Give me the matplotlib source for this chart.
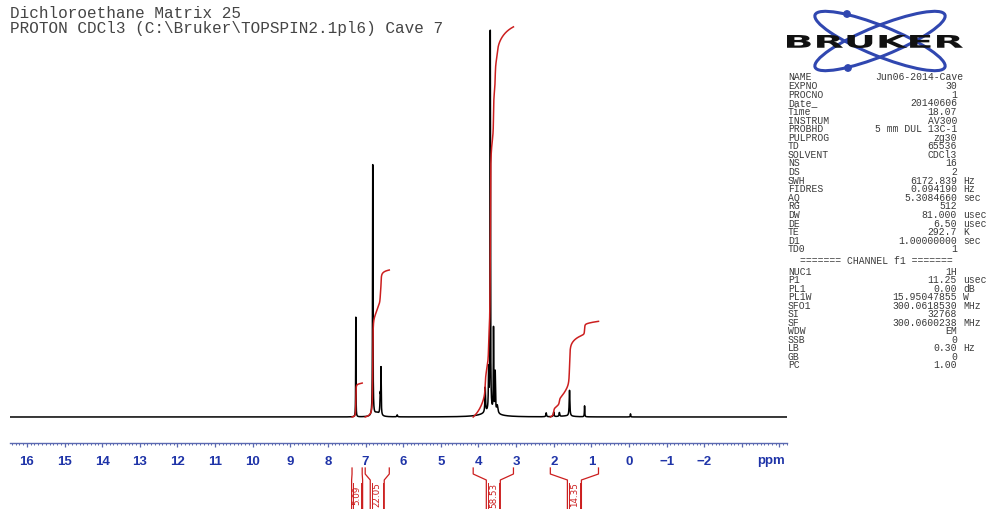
import numpy as np
import matplotlib.pyplot as plt
from matplotlib.patches import Ellipse, Circle, PathPatch
from matplotlib.textpath import TextPath
from matplotlib.font_manager import FontProperties
from matplotlib.transforms import Affine2D

# ---- data ----
# peaks: position (ppm), relative height (largest = 100), half width (ppm)
peak_ppm = [7.26, 6.81, 6.61, 6.59, 6.70, 6.16, 3.82, 3.73, 3.686, 3.60, 3.555,
            3.50, 3.70, 2.20, 2.00, 1.85, 1.58, 1.65, 1.18, -0.04]
peak_height = [25.6, 64.4, 5.1, 11.5, 1.0, 0.5, 6.4, 10.3, 97.5, 21.3, 10.3,
               2.0, 1.2, 1.0, 1.2, 1.0, 6.6, 0.25, 2.8, 0.8]
peak_width = [0.004, 0.006, 0.01, 0.006, 0.08, 0.01, 0.01, 0.008, 0.006, 0.006, 0.008,
              0.02, 0.25, 0.01, 0.01, 0.01, 0.01, 0.2, 0.006, 0.006]

# integrals: region start / end (ppm) and value
int_start = [7.36, 7.01, 4.14, 2.09]
int_end = [7.09, 6.37, 3.07, 0.81]
int_value = [5.09, 22.05, 58.53, 14.35]
int_labels = ['5.09', '22.05', '58.53', '14.35']

tick_values = list(range(16, -5, -1))
tick_labels = [str(v).replace('-', '\u2212') if v >= -2 else '' for v in tick_values]

title_lines = ['Dichloroethane Matrix 25',
               'PROTON CDCl3 (C:\\Bruker\\TOPSPIN2.1pl6) Cave 7']

acq_names = ['NAME', 'EXPNO', 'PROCNO', 'Date_', 'Time', 'INSTRUM', 'PROBHD', 'PULPROG',
             'TD', 'SOLVENT', 'NS', 'DS', 'SWH', 'FIDRES', 'AQ', 'RG', 'DW', 'DE',
             'TE', 'D1', 'TD0']
acq_values = ['Jun06-2014-Cave', '30', '1', '20140606', '18.07', 'AV300', '5 mm DUL 13C-1',
              'zg30', '65536', 'CDCl3', '16', '2', '6172.839', '0.094190', '5.3084660',
              '512', '81.000', '6.50', '292.7', '1.00000000', '1']
acq_units = ['', '', '', '', '', '', '', '', '', '', '', '', 'Hz', 'Hz', 'sec', '',
             'usec', 'usec', 'K', 'sec', '']

ch_names = ['NUC1', 'P1', 'PL1', 'PL1W', 'SFO1', 'SI', 'SF', 'WDW', 'SSB', 'LB', 'GB', 'PC']
ch_values = ['1H', '11.25', '0.00', '15.95047855', '300.0618530', '32768', '300.0600238',
             'EM', '0', '0.30', '0', '1.00']
ch_units = ['', 'usec', 'dB', 'W', 'MHz', '', 'MHz', '', '', 'Hz', '', '']

int_scale = 1.71  # plot units per integral unit
red = '#cc1f1f'
blue_txt = '#1f34a8'
blue_axis = '#5a68b0'

W, H = 995, 510
fig = plt.figure(figsize=(W / 100, H / 100), dpi=100)

# ---- spectrum axes ----
ax = fig.add_axes([10 / W, (H - 444) / H, 777 / W, 424 / H])
ppm_left, ppm_right = 16.45, -4.2
x = np.linspace(ppm_left, ppm_right, 65536)
spec = np.zeros_like(x)
for p, h, w in zip(peak_ppm, peak_height, peak_width):
    spec += h * w ** 2 / ((x - p) ** 2 + w ** 2)

ax.plot(x, spec, color='black', lw=1.1)

for a, b, v in zip(int_start, int_end, int_value):
    m = (x <= a) & (x >= b)
    cum = np.cumsum(spec[m])
    cum = cum / cum[-1] * v * int_scale
    ax.plot(x[m], cum, color=red, lw=1.1)

ax.set_xlim(ppm_left, ppm_right)
ax.set_ylim(-6.67, 102.1)
for s in ['left', 'right', 'top']:
    ax.spines[s].set_visible(False)
ax.spines['bottom'].set_color(blue_axis)
ax.spines['bottom'].set_linewidth(1.0)
ax.set_yticks([])
ax.set_xticks(tick_values)
ax.set_xticklabels(tick_labels, fontfamily='Liberation Sans', fontweight='bold',
                   fontsize=9.5, color=blue_txt)
ax.set_xticks(np.round(np.arange(-4.2, 16.45, 0.1), 1), minor=True)
ax.tick_params(axis='x', which='major', direction='out', length=3, width=0.9,
               color=blue_axis, pad=6)
ax.tick_params(axis='x', which='minor', direction='out', length=1.6, width=0.7,
               color=blue_axis)
ax.text(-3.77, -0.040, 'ppm', transform=ax.get_xaxis_transform(), ha='center',
        va='center', fontfamily='Liberation Sans', fontweight='bold', fontsize=9.5,
        color=blue_txt)
ax.patch.set_alpha(0)

# ---- overlay in pixel coordinates ----
ov = fig.add_axes([0, 0, 1, 1])
ov.set_xlim(0, W)
ov.set_ylim(H, 0)
ov.axis('off')
ov.patch.set_alpha(0)

for i, line in enumerate(title_lines):
    ov.text(10, 13 + 15 * i, line, fontfamily='Liberation Mono', fontsize=11.5,
            color='#454545', va='center', ha='left')


def px(ppm):
    return ax.transData.transform((ppm, 0))[0]


# integral brackets and labels under the axis
for a, b, lab in zip(int_start, int_end, int_labels):
    xa, xb = px(a), px(b)
    xc = (xa + xb) / 2
    hw = 7 if len(lab) > 4 else 5.5
    ov.plot([xa, xa, xc - hw, xc - hw], [469, 475, 481, 512], color=red, lw=0.9,
            clip_on=False)
    ov.plot([xb, xb, xc + hw, xc + hw], [469, 475, 481, 512], color=red, lw=0.9,
            clip_on=False)
    ov.plot([xc - hw + 1.5, xc - hw + 1.5], [484, 512], color=red, lw=0.7, clip_on=False)
    ov.plot([xc + hw - 1.5, xc + hw - 1.5], [484, 512], color=red, lw=0.7, clip_on=False)
    ov.text(xc, 495, lab, rotation=90, ha='center', va='center', fontsize=6.3,
            color=red, fontfamily='DejaVu Sans')

# Bruker logo
logo_blue = '#3047b0'
for ang in (22, -22):
    ov.add_patch(Ellipse((880, 42), 140, 30, angle=ang, fill=False,
                         edgecolor=logo_blue, lw=2.2))
ov.add_patch(Circle((847, 15), 3.2, color=logo_blue))
ov.add_patch(Circle((848, 69), 3.2, color=logo_blue))
tp = TextPath((0, 0), 'BRUKER', size=10,
              prop=FontProperties(family='DejaVu Sans', weight='bold'))
ext = tp.get_extents()
tr = (Affine2D().translate(-ext.x0, -ext.y0)
      .scale(176 / ext.width, -13 / ext.height).translate(787, 49))
ov.add_patch(PathPatch(tr.transform_path(tp), facecolor='#111111', edgecolor='none',
                       zorder=3))

# parameter table
pfont = dict(fontfamily='Liberation Mono', fontsize=7.0, color='#3a3a3a', va='center')
for i, (n, v, u) in enumerate(zip(acq_names, acq_values, acq_units)):
    y = 77.5 + 8.6 * i
    ov.text(788, y, n, ha='left', **pfont)
    ov.text(963 if n == 'NAME' else 957, y, v, ha='right', **pfont)
    if u:
        ov.text(963, y, u, ha='left', **pfont)

ov.text(876, 261, '======= CHANNEL f1 =======', ha='center', **pfont)
for j, (n, v, u) in enumerate(zip(ch_names, ch_values, ch_units)):
    y = 272 + 8.5 * j
    ov.text(788, y, n, ha='left', **pfont)
    ov.text(957, y, v, ha='right', **pfont)
    if u:
        ov.text(963, y, u, ha='left', **pfont)

fig.savefig('out.png', dpi=100)
